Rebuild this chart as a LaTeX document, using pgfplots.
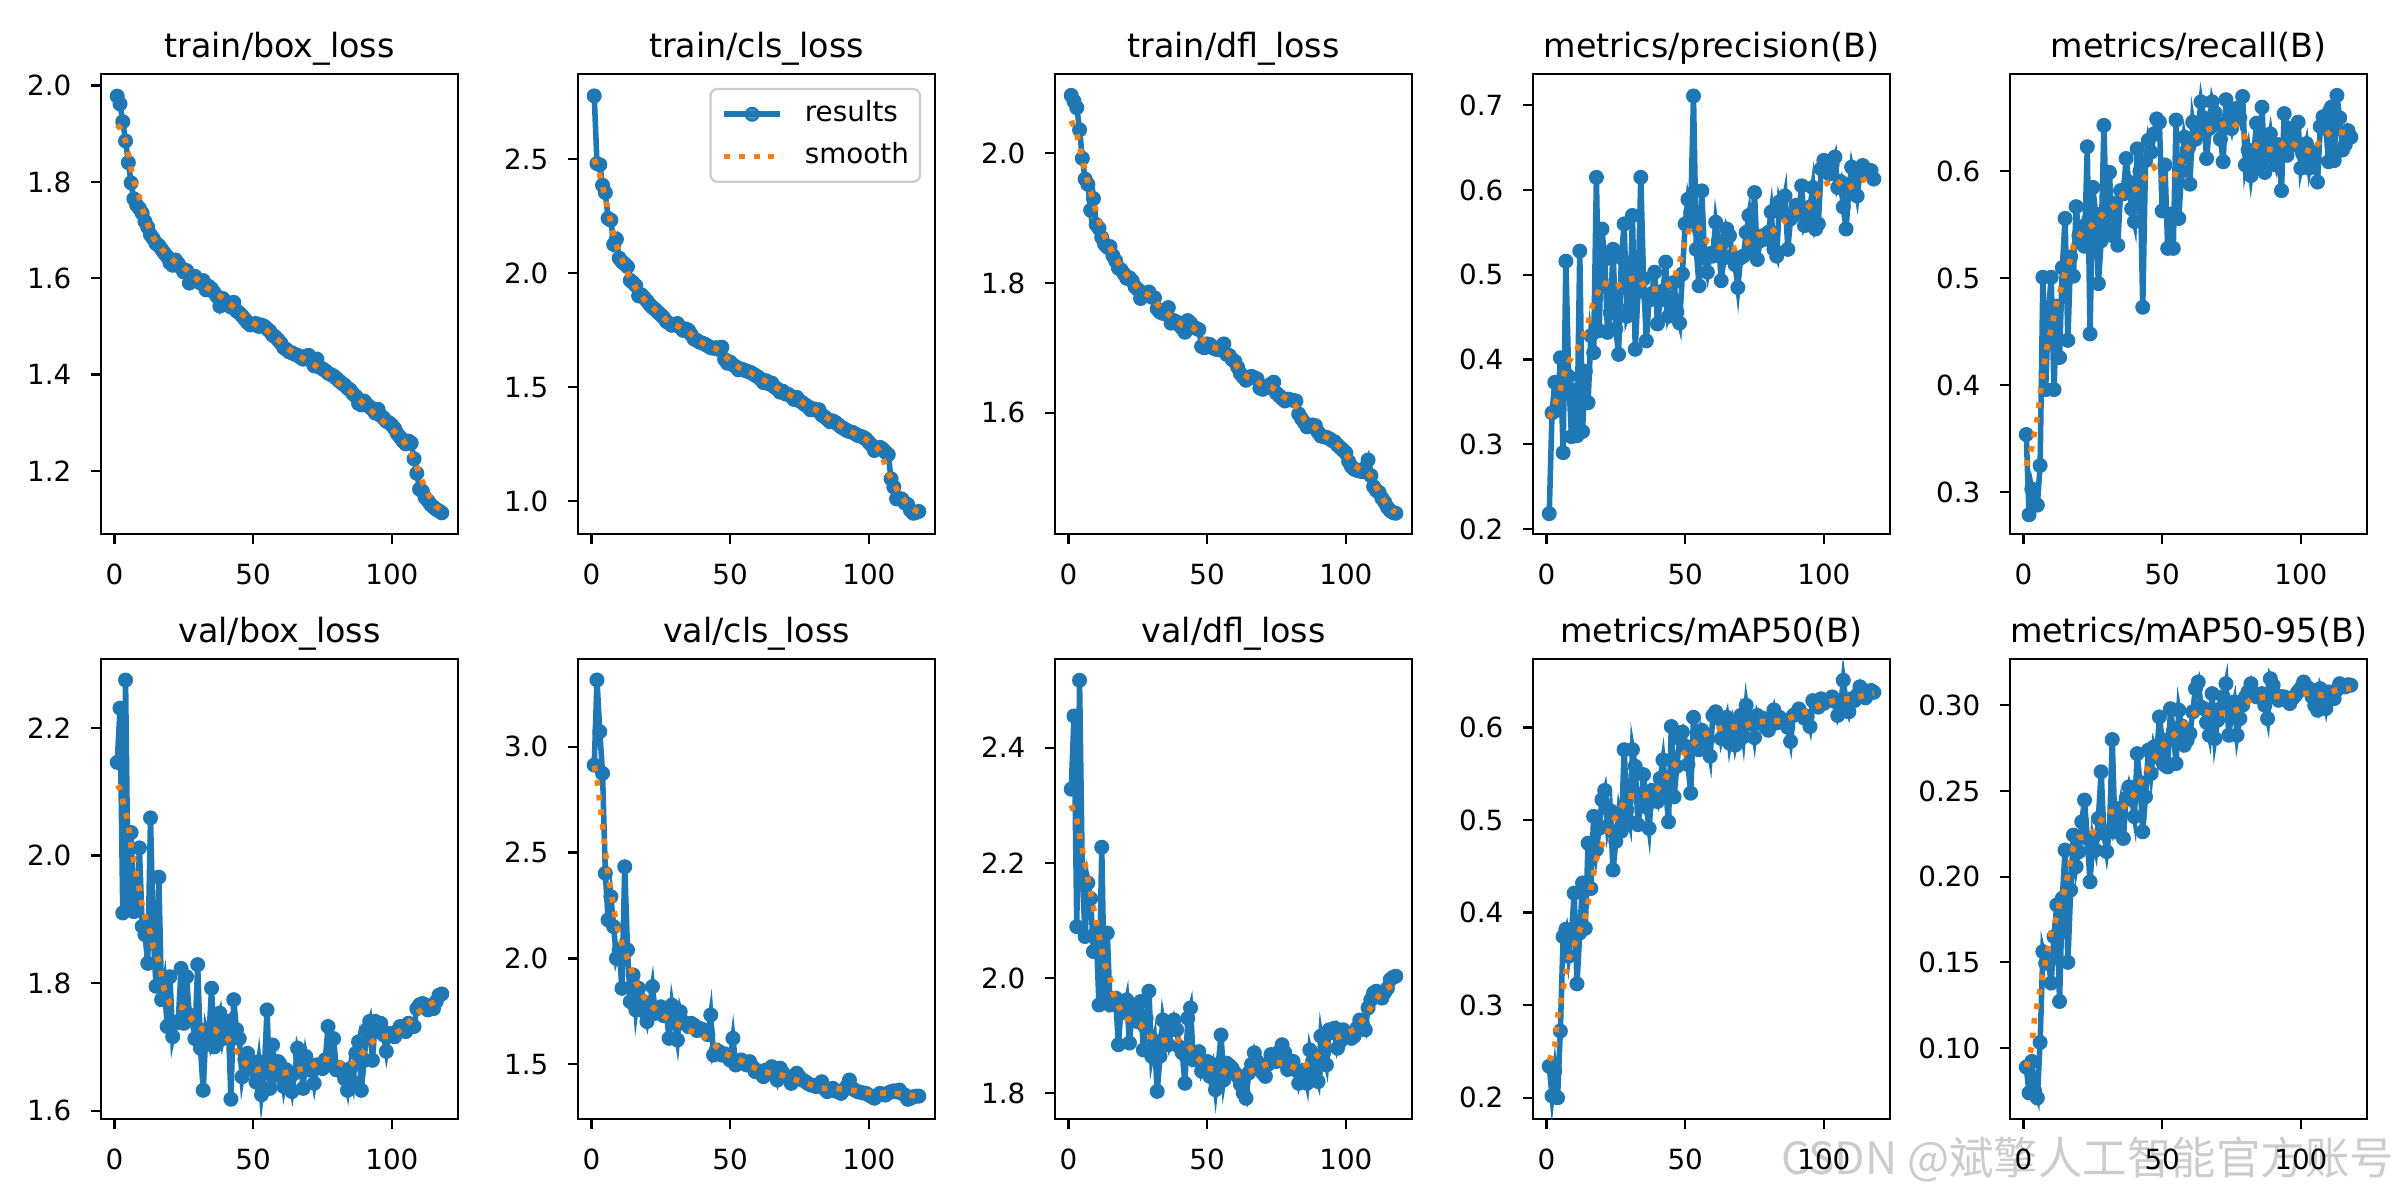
\documentclass[border=0pt]{standalone}
\usepackage{fontspec}
\setmainfont{DejaVu Sans}
\newfontfamily\cjk{Noto Sans CJK SC}
\usepackage{pgfplots}
\usepackage{pgfplotstable}
\pgfplotsset{compat=1.18}
\definecolor{C0}{RGB}{31,119,180}
\definecolor{C1}{RGB}{255,127,14}

\pgfplotstableread{
e tbox tcls tdfl prec rec vbox vcls vdfl mA mB
1 1.978 2.777 2.089 0.218 0.354 2.146 2.913 2.328 0.234 0.0889
2 1.962 2.480 2.080 0.337 0.279 2.231 3.315 2.455 0.202 0.0738
3 1.925 2.475 2.070 0.373 0.303 1.910 3.071 2.089 0.229 0.0922
4 1.885 2.385 2.036 0.340 0.290 2.275 2.874 2.517 0.200 0.075
5 1.840 2.353 1.992 0.402 0.288 1.915 2.402 2.176 0.272 0.0709
6 1.798 2.240 1.960 0.290 0.325 2.036 2.182 2.072 0.374 0.1033
7 1.765 2.232 1.952 0.516 0.501 1.912 2.292 2.165 0.382 0.1563
8 1.752 2.126 1.912 0.380 0.396 1.915 2.150 2.138 0.353 0.1495
9 1.745 2.149 1.930 0.309 0.470 2.012 2.000 2.046 0.376 0.150
10 1.735 2.066 1.890 0.364 0.501 1.889 2.040 2.080 0.421 0.1379
11 1.718 2.050 1.884 0.310 0.396 1.876 1.859 1.953 0.323 0.165
12 1.706 2.040 1.870 0.528 0.474 1.831 2.433 2.227 0.378 0.1835
13 1.690 2.028 1.860 0.315 0.426 2.059 2.040 1.962 0.432 0.1272
14 1.682 1.968 1.855 0.386 0.510 1.873 1.796 2.078 0.383 0.1874
15 1.672 1.958 1.856 0.349 0.556 1.795 1.922 1.953 0.475 0.2155
16 1.668 1.945 1.842 0.428 0.442 1.966 1.757 1.960 0.426 0.150
17 1.660 1.900 1.834 0.408 0.520 1.774 1.859 1.965 0.504 0.1922
18 1.652 1.905 1.823 0.615 0.502 1.800 1.804 1.884 0.468 0.2243
19 1.645 1.892 1.820 0.434 0.567 1.732 1.750 1.950 0.491 0.2058
20 1.632 1.878 1.814 0.554 0.540 1.810 1.702 1.940 0.522 0.2146
21 1.627 1.862 1.807 0.518 0.548 1.716 1.780 1.962 0.532 0.232
22 1.638 1.850 1.808 0.432 0.530 1.737 1.867 1.887 0.493 0.2447
23 1.630 1.840 1.803 0.455 0.623 1.740 1.741 1.945 0.510 0.2223
24 1.622 1.828 1.794 0.530 0.448 1.823 1.760 1.935 0.446 0.197
25 1.613 1.817 1.790 0.436 0.585 1.737 1.772 1.924 0.477 0.2223
26 1.616 1.805 1.776 0.406 0.560 1.810 1.730 1.959 0.507 0.2155
27 1.590 1.788 1.780 0.520 0.495 1.750 1.741 1.875 0.488 0.234
28 1.598 1.780 1.784 0.560 0.535 1.742 1.623 1.930 0.576 0.2612
29 1.604 1.771 1.786 0.451 0.643 1.713 1.780 1.977 0.511 0.2252
30 1.597 1.775 1.778 0.461 0.545 1.829 1.700 1.864 0.498 0.2146
31 1.590 1.779 1.777 0.570 0.599 1.698 1.615 1.890 0.576 0.2262
32 1.595 1.762 1.760 0.412 0.540 1.632 1.749 1.803 0.558 0.280
33 1.576 1.749 1.755 0.480 0.570 1.727 1.702 1.864 0.495 0.2262
34 1.583 1.755 1.753 0.615 0.531 1.711 1.690 1.927 0.520 0.2291
35 1.578 1.749 1.758 0.495 0.582 1.792 1.678 1.900 0.549 0.240
36 1.570 1.730 1.762 0.422 0.579 1.700 1.694 1.884 0.514 0.2223
37 1.562 1.711 1.738 0.470 0.612 1.740 1.685 1.910 0.491 0.2456
38 1.542 1.705 1.742 0.478 0.590 1.753 1.660 1.927 0.532 0.2524
39 1.558 1.697 1.740 0.503 0.565 1.713 1.670 1.910 0.527 0.245
40 1.552 1.693 1.735 0.442 0.553 1.732 1.665 1.880 0.520 0.235
41 1.547 1.688 1.730 0.470 0.621 1.740 1.654 1.870 0.545 0.2718
42 1.540 1.680 1.724 0.481 0.600 1.618 1.640 1.817 0.565 0.255
43 1.550 1.673 1.742 0.515 0.473 1.774 1.733 1.930 0.532 0.2262
44 1.532 1.670 1.738 0.451 0.610 1.727 1.544 1.948 0.498 0.2466
45 1.528 1.673 1.732 0.460 0.629 1.713 1.568 1.858 0.601 0.2738
46 1.522 1.665 1.730 0.491 0.618 1.653 1.560 1.865 0.525 0.2602
47 1.515 1.675 1.728 0.456 0.635 1.680 1.544 1.872 0.558 0.2757
48 1.508 1.622 1.702 0.443 0.649 1.690 1.550 1.838 0.588 0.270
49 1.503 1.605 1.700 0.501 0.646 1.675 1.536 1.850 0.595 0.2932
50 1.505 1.610 1.706 0.560 0.563 1.664 1.520 1.855 0.580 0.280
51 1.506 1.598 1.705 0.589 0.606 1.645 1.623 1.829 0.560 0.265
52 1.500 1.590 1.700 0.574 0.528 1.677 1.497 1.846 0.529 0.264
53 1.503 1.576 1.698 0.711 0.560 1.625 1.510 1.806 0.611 0.298
54 1.500 1.580 1.697 0.530 0.528 1.659 1.521 1.850 0.577 0.285
55 1.495 1.575 1.702 0.487 0.648 1.758 1.505 1.901 0.576 0.266
56 1.490 1.570 1.706 0.599 0.556 1.635 1.497 1.823 0.597 0.2971
57 1.482 1.566 1.690 0.520 0.600 1.703 1.513 1.852 0.590 0.288
58 1.478 1.560 1.688 0.503 0.632 1.656 1.490 1.848 0.586 0.2767
59 1.472 1.552 1.682 0.525 0.620 1.677 1.466 1.843 0.569 0.2796
60 1.465 1.545 1.679 0.522 0.588 1.670 1.470 1.835 0.613 0.2835
61 1.456 1.535 1.670 0.562 0.646 1.638 1.458 1.829 0.617 0.2961
62 1.452 1.520 1.660 0.540 0.630 1.664 1.442 1.815 0.610 0.3097
63 1.447 1.528 1.655 0.493 0.640 1.650 1.474 1.800 0.588 0.3136
64 1.445 1.514 1.650 0.520 0.665 1.630 1.465 1.791 0.600 0.299
65 1.442 1.518 1.653 0.554 0.650 1.659 1.489 1.835 0.611 0.2981
66 1.440 1.500 1.656 0.546 0.612 1.698 1.470 1.850 0.583 0.290
67 1.436 1.492 1.654 0.522 0.640 1.685 1.426 1.870 0.601 0.2825
68 1.432 1.478 1.652 0.512 0.665 1.635 1.482 1.855 0.581 0.3068
69 1.438 1.482 1.638 0.485 0.655 1.685 1.460 1.841 0.595 0.2806
70 1.440 1.470 1.636 0.520 0.645 1.664 1.442 1.835 0.613 0.2913
71 1.428 1.468 1.640 0.522 0.630 1.670 1.435 1.829 0.590 0.298
72 1.418 1.460 1.639 0.550 0.609 1.643 1.410 1.850 0.624 0.305
73 1.432 1.446 1.644 0.570 0.667 1.672 1.430 1.867 0.604 0.3126
74 1.415 1.455 1.647 0.530 0.650 1.668 1.458 1.860 0.610 0.2825
75 1.412 1.440 1.630 0.597 0.640 1.666 1.440 1.855 0.589 0.295
76 1.408 1.432 1.626 0.518 0.655 1.680 1.426 1.872 0.613 0.3019
77 1.403 1.423 1.622 0.540 0.659 1.732 1.420 1.884 0.605 0.2825
78 1.400 1.415 1.618 0.546 0.650 1.674 1.410 1.870 0.610 0.2922
79 1.397 1.401 1.621 0.542 0.670 1.713 1.403 1.841 0.600 0.300
80 1.392 1.405 1.620 0.550 0.606 1.664 1.400 1.850 0.597 0.3049
81 1.387 1.398 1.619 0.574 0.620 1.668 1.395 1.855 0.608 0.308
82 1.382 1.401 1.618 0.530 0.596 1.661 1.405 1.840 0.619 0.3126
83 1.378 1.378 1.598 0.522 0.615 1.650 1.418 1.817 0.605 0.307
84 1.372 1.370 1.591 0.586 0.645 1.632 1.385 1.835 0.611 0.3049
85 1.368 1.360 1.585 0.575 0.606 1.666 1.371 1.840 0.608 0.306
86 1.360 1.348 1.578 0.593 0.660 1.645 1.380 1.817 0.606 0.3068
87 1.355 1.352 1.579 0.530 0.599 1.690 1.387 1.875 0.600 0.300
88 1.340 1.345 1.581 0.566 0.620 1.708 1.375 1.855 0.585 0.2922
89 1.337 1.335 1.580 0.570 0.635 1.632 1.370 1.835 0.613 0.3155
90 1.345 1.325 1.570 0.582 0.615 1.679 1.363 1.820 0.615 0.3117
91 1.338 1.318 1.564 0.575 0.606 1.727 1.380 1.899 0.620 0.306
92 1.333 1.310 1.563 0.605 0.625 1.740 1.395 1.870 0.615 0.3029
93 1.328 1.305 1.562 0.558 0.582 1.679 1.426 1.849 0.610 0.305
94 1.320 1.302 1.560 0.565 0.654 1.740 1.387 1.910 0.612 0.3049
95 1.328 1.296 1.557 0.580 0.615 1.735 1.378 1.905 0.601 0.303
96 1.315 1.288 1.555 0.603 0.640 1.737 1.371 1.913 0.629 0.301
97 1.310 1.285 1.550 0.554 0.634 1.719 1.368 1.878 0.625 0.304
98 1.303 1.280 1.546 0.560 0.625 1.693 1.365 1.890 0.622 0.3058
99 1.300 1.272 1.542 0.625 0.646 1.721 1.363 1.910 0.631 0.308
100 1.295 1.258 1.538 0.635 0.603 1.718 1.355 1.905 0.626 0.310
101 1.288 1.245 1.525 0.628 0.615 1.716 1.348 1.901 0.629 0.3136
102 1.277 1.222 1.517 0.619 0.626 1.725 1.340 1.895 0.630 0.311
103 1.270 1.230 1.513 0.630 0.603 1.732 1.352 1.899 0.633 0.3097
104 1.262 1.236 1.511 0.639 0.618 1.728 1.363 1.913 0.628 0.305
105 1.256 1.228 1.510 0.603 0.610 1.724 1.360 1.927 0.613 0.300
106 1.262 1.215 1.509 0.610 0.590 1.737 1.355 1.920 0.622 0.2971
107 1.258 1.204 1.515 0.580 0.642 1.735 1.365 1.910 0.651 0.3097
108 1.225 1.098 1.527 0.554 0.651 1.732 1.371 1.948 0.628 0.305
109 1.195 1.062 1.503 0.600 0.640 1.760 1.375 1.962 0.617 0.2981
110 1.162 1.010 1.486 0.627 0.609 1.766 1.370 1.974 0.631 0.3078
111 1.158 1.012 1.480 0.612 0.660 1.768 1.379 1.977 0.629 0.306
112 1.145 1.008 1.477 0.593 0.610 1.766 1.362 1.970 0.635 0.3039
113 1.138 0.992 1.468 0.620 0.671 1.758 1.355 1.965 0.644 0.309
114 1.130 0.985 1.462 0.629 0.650 1.762 1.335 1.975 0.635 0.3126
115 1.125 0.960 1.454 0.625 0.620 1.760 1.340 1.982 0.632 0.311
116 1.120 0.947 1.449 0.619 0.625 1.771 1.347 1.997 0.637 0.3107
117 1.117 0.950 1.446 0.623 0.638 1.781 1.350 2.001 0.640 0.312
118 1.113 0.955 1.445 0.613 0.632 1.783 1.350 2.003 0.638 0.3117
}\results

\pgfplotsset{
  panel/.style={
    anchor=south west,
    scale only axis, width=128.52pt, height=165.6pt,
    xmin=-4.85, xmax=123.85, xtick={0,50,100},
    clip marker paths=true,
    tick pos=left, tick align=outside, major tick length=3.5pt,
    every tick/.style={black, line width=0.8pt},
    axis line style={line width=0.8pt},
    every axis title/.style={at={(0.5,1)}, anchor=base, yshift=6pt, inner sep=0pt, font=\fontsize{12}{14}\selectfont},
    tick label style={font=\fontsize{10}{12}\selectfont},
    xticklabel style={anchor=north, inner sep=0pt, yshift=-7pt},
    yticklabel style={anchor=east, inner sep=0pt, xshift=-7pt},
    /pgf/number format/assume math mode=true,
    scaled y ticks=false,
    yticklabel={\pgfmathprintnumber[fixed,fixed zerofill,precision=1]{\tick}},
  },
  twodec/.style={yticklabel={\pgfmathprintnumber[fixed,fixed zerofill,precision=2]{\tick}}},
  res/.style={C0, line width=2pt, mark=*, mark size=2.3pt, mark options={solid, fill=C0, draw=C0, line width=0.8pt}},
  smo/.style={C1, line width=2pt, dash pattern=on 2pt off 3.3pt, no marks},
}

\begin{document}
\begin{tikzpicture}
\useasboundingbox (0,0) rectangle (864pt,432pt);
\node[anchor=east, inner sep=0pt, text=black!20, font=\cjk\fontsize{16}{18}\selectfont] at (862pt,14.5pt) {CSDN @斌擎人工智能官方账号};

% ---- row 1 ----
\begin{axis}[panel, at={(36.36pt,239.76pt)}, title={train/box\_loss},
  ymin=1.069, ymax=2.024, ytick={1.2,1.4,1.6,1.8,2.0}]
\addplot[res] table[x=e,y=tbox]{\results};
\addplot[smo] coordinates {(1,1.918)(2,1.912)(4,1.885)(5,1.857)(6,1.828)(7,1.802)(9,1.767)(10,1.745)(12,1.711)(14,1.684)(17,1.661)(21,1.638)(26,1.618)(29,1.602)(33,1.582)(38,1.563)(42,1.545)(46,1.525)(50,1.507)(55,1.491)(59,1.472)(63,1.452)(67,1.437)(72,1.420)(76,1.403)(80,1.385)(85,1.365)(89,1.344)(92,1.328)(96,1.307)(100,1.287)(104,1.264)(107,1.235)(109,1.208)(111,1.178)(113,1.152)(116,1.126)(118,1.118)};
\end{axis}

\begin{axis}[panel, at={(208.08pt,239.76pt)}, title={train/cls\_loss},
  ymin=0.856, ymax=2.873, ytick={1.0,1.5,2.0,2.5},
  legend cell align=left,
  legend style={at={(1,1)}, anchor=north east, xshift=-5pt, yshift=-5pt, draw=black!20, line width=0.8pt, rounded corners=2.5pt, fill=white, fill opacity=0.8, text opacity=1, draw opacity=1, font=\fontsize{10}{12}\selectfont, inner xsep=4pt, inner ysep=4pt, row sep=5pt, nodes={inner sep=0pt, text height=7.6pt, text depth=2.6pt}, /tikz/every odd column/.append style={column sep=8pt}},
  legend image code/.code={\draw[mark repeat=2,mark phase=2,#1] plot coordinates {(0pt,0pt) (10pt,0pt) (20pt,0pt)};}]
\addplot[res] table[x=e,y=tcls]{\results};
\addlegendentry{results}
\addplot[smo] coordinates {(1,2.50)(3,2.43)(5,2.33)(7,2.22)(9,2.12)(11,2.06)(13,2.00)(15,1.955)(17,1.915)(19,1.885)(21,1.862)(23,1.84)(25,1.818)(27,1.795)(29,1.778)(31,1.768)(33,1.755)(35,1.742)(37,1.72)(39,1.70)(41,1.687)(43,1.676)(45,1.668)(47,1.652)(49,1.626)(51,1.603)(53,1.587)(55,1.576)(57,1.566)(59,1.553)(61,1.538)(63,1.525)(65,1.512)(67,1.495)(69,1.481)(71,1.469)(73,1.455)(75,1.441)(77,1.425)(79,1.41)(81,1.401)(83,1.385)(85,1.365)(87,1.35)(89,1.337)(91,1.32)(93,1.306)(95,1.296)(97,1.285)(99,1.271)(101,1.252)(103,1.235)(105,1.19)(107,1.125)(109,1.075)(111,1.035)(113,1.0)(115,0.975)(117,0.958)(118,0.955)};
\addlegendentry{smooth}
\end{axis}

\begin{axis}[panel, at={(379.8pt,239.76pt)}, title={train/dfl\_loss},
  ymin=1.413, ymax=2.122, ytick={1.6,1.8,2.0}]
\addplot[res] table[x=e,y=tdfl]{\results};
\addplot[smo] coordinates {(1,2.05)(3,2.03)(5,1.99)(7,1.955)(9,1.925)(11,1.895)(13,1.872)(15,1.855)(17,1.838)(19,1.825)(21,1.812)(23,1.802)(25,1.792)(27,1.785)(29,1.781)(31,1.773)(33,1.762)(35,1.755)(37,1.748)(39,1.741)(41,1.735)(43,1.734)(45,1.731)(47,1.722)(49,1.71)(51,1.703)(53,1.700)(55,1.699)(57,1.693)(59,1.683)(61,1.670)(63,1.659)(65,1.654)(67,1.652)(69,1.645)(71,1.641)(73,1.640)(75,1.634)(77,1.626)(79,1.621)(81,1.616)(83,1.604)(85,1.590)(87,1.582)(89,1.577)(91,1.568)(93,1.562)(95,1.557)(97,1.550)(99,1.542)(101,1.530)(103,1.519)(105,1.513)(107,1.510)(109,1.502)(111,1.485)(113,1.469)(115,1.457)(117,1.449)(118,1.447)};
\end{axis}

\begin{axis}[panel, at={(551.88pt,239.76pt)}, title={metrics/precision(B)},
  ymin=0.194, ymax=0.737, ytick={0.2,0.3,0.4,0.5,0.6,0.7}]
\addplot[res] table[x=e,y=prec]{\results};
\addplot[smo] coordinates {(1,0.331)(3,0.347)(5,0.364)(6,0.380)(8,0.397)(11,0.412)(13,0.426)(15,0.442)(16,0.459)(18,0.475)(20,0.491)(25,0.485)(29,0.494)(33,0.497)(36,0.483)(41,0.483)(46,0.492)(47,0.507)(49,0.524)(50,0.540)(52,0.558)(55,0.555)(58,0.539)(62,0.533)(67,0.530)(72,0.537)(76,0.547)(81,0.550)(85,0.561)(89,0.573)(94,0.578)(97,0.591)(100,0.606)(104,0.613)(108,0.601)(112,0.608)(116,0.615)(118,0.616)};
\end{axis}

\begin{axis}[panel, at={(723.6pt,239.76pt)}, title={metrics/recall(B)},
  ymin=0.261, ymax=0.691, ytick={0.3,0.4,0.5,0.6}]
\addplot[res] table[x=e,y=rec]{\results};
\addplot[smo] coordinates {(1,0.325)(3,0.342)(4,0.356)(5,0.370)(6,0.392)(7,0.411)(8,0.430)(10,0.453)(11,0.465)(12,0.478)(14,0.495)(15,0.505)(17,0.518)(18,0.531)(21,0.543)(25,0.550)(29,0.561)(33,0.568)(36,0.579)(41,0.584)(44,0.595)(47,0.604)(50,0.593)(54,0.593)(56,0.605)(58,0.617)(61,0.629)(65,0.638)(70,0.642)(75,0.647)(78,0.639)(81,0.628)(86,0.621)(91,0.620)(95,0.629)(99,0.623)(104,0.618)(107,0.629)(111,0.638)(116,0.636)(118,0.635)};
\end{axis}

% ---- row 2 ----
\begin{axis}[panel, at={(36.36pt,29.16pt)}, title={val/box\_loss},
  ymin=1.587, ymax=2.308, ytick={1.6,1.8,2.0,2.2}]
\addplot[res] table[x=e,y=vbox]{\results};
\addplot[smo] coordinates {(1,2.11)(2,2.104)(3,2.085)(5,2.05)(6,2.014)(7,1.991)(8,1.968)(9,1.946)(10,1.923)(11,1.905)(13,1.878)(14,1.856)(16,1.834)(17,1.811)(18,1.789)(20,1.768)(25,1.761)(28,1.743)(32,1.727)(36,1.727)(41,1.712)(44,1.694)(47,1.675)(51,1.664)(56,1.669)(61,1.659)(66,1.664)(71,1.669)(75,1.682)(80,1.677)(84,1.668)(88,1.682)(91,1.700)(95,1.716)(100,1.717)(105,1.732)(108,1.749)(112,1.763)(117,1.774)(118,1.776)};
\end{axis}

\begin{axis}[panel, at={(208.08pt,29.16pt)}, title={val/cls\_loss},
  ymin=1.242, ymax=3.414, ytick={1.5,2.0,2.5,3.0}]
\addplot[res] table[x=e,y=vcls]{\results};
\addplot[smo] coordinates {(1,2.91)(2,2.843)(3,2.74)(4,2.63)(5,2.51)(6,2.39)(7,2.32)(8,2.24)(9,2.16)(11,2.07)(13,2.00)(14,1.96)(16,1.89)(19,1.815)(22,1.772)(26,1.728)(30,1.697)(35,1.662)(40,1.639)(44,1.595)(48,1.552)(53,1.524)(58,1.489)(62,1.464)(67,1.456)(72,1.434)(77,1.412)(83,1.387)(88,1.387)(93,1.379)(98,1.371)(103,1.363)(108,1.366)(114,1.355)(118,1.350)};
\end{axis}

\begin{axis}[panel, at={(379.8pt,29.16pt)}, title={val/dfl\_loss},
  ymin=1.755, ymax=2.554, ytick={1.8,2.0,2.2,2.4}]
\addplot[res] table[x=e,y=vdfl]{\results};
\addplot[smo] coordinates {(1,2.30)(3,2.274)(4,2.248)(5,2.224)(6,2.198)(7,2.173)(8,2.147)(9,2.123)(10,2.098)(11,2.073)(12,2.049)(13,2.025)(15,2.0)(16,1.975)(18,1.951)(21,1.930)(26,1.919)(29,1.900)(33,1.890)(38,1.896)(43,1.884)(46,1.864)(50,1.843)(55,1.841)(59,1.829)(64,1.835)(69,1.845)(73,1.853)(78,1.852)(83,1.841)(87,1.853)(91,1.871)(94,1.893)(99,1.900)(104,1.913)(107,1.934)(110,1.956)(113,1.977)(117,1.988)(118,1.990)};
\end{axis}

\begin{axis}[panel, at={(551.88pt,29.16pt)}, title={metrics/mAP50(B)},
  ymin=0.177, ymax=0.674, ytick={0.2,0.3,0.4,0.5,0.6}]
\addplot[res] table[x=e,y=mA]{\results};
\addplot[smo] coordinates {(1,0.24)(3,0.256)(4,0.287)(5,0.302)(6,0.318)(7,0.335)(8,0.350)(10,0.365)(12,0.381)(14,0.396)(15,0.411)(16,0.426)(17,0.442)(18,0.458)(20,0.473)(24,0.499)(27,0.513)(29,0.526)(34,0.526)(39,0.529)(42,0.541)(45,0.555)(48,0.567)(52,0.579)(55,0.589)(60,0.597)(65,0.601)(70,0.600)(75,0.606)(80,0.607)(85,0.607)(90,0.613)(95,0.619)(100,0.626)(105,0.630)(110,0.631)(115,0.635)(118,0.637)};
\end{axis}

\begin{axis}[panel, twodec, at={(723.6pt,29.16pt)}, title={metrics/mAP50-95(B)},
  ymin=0.0586, ymax=0.327, ytick={0.10,0.15,0.20,0.25,0.30}]
\addplot[res] table[x=e,y=mB]{\results};
\addplot[smo] coordinates {(1,0.089)(3,0.101)(4,0.1175)(5,0.1262)(6,0.1344)(7,0.1427)(8,0.151)(9,0.1592)(10,0.168)(12,0.1763)(13,0.1845)(15,0.1926)(16,0.201)(17,0.2097)(18,0.2171)(20,0.2229)(24,0.2233)(27,0.2307)(30,0.2379)(34,0.2379)(38,0.2437)(41,0.2509)(43,0.2583)(46,0.266)(49,0.2738)(52,0.28)(56,0.285)(59,0.2917)(63,0.2971)(68,0.2951)(74,0.2955)(78,0.2981)(82,0.3033)(87,0.3049)(93,0.3052)(98,0.3058)(103,0.3072)(108,0.3058)(113,0.3091)(117,0.3097)(118,0.310)};
\end{axis}
\end{tikzpicture}
\end{document}
